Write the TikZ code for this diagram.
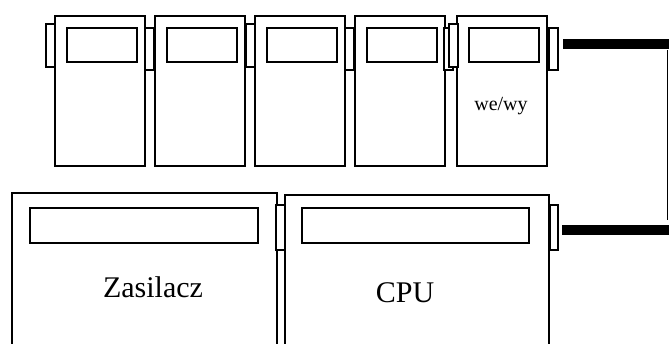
\documentclass[tikz,border=0pt]{standalone}
\usepackage{fontspec}
\setmainfont{Liberation Serif}
\begin{document}
\begin{tikzpicture}[x=1pt,y=-1pt,line width=1.1pt,
    box/.style={draw,fill=white,inner sep=0pt,outer sep=0pt,anchor=north west},
    plugl/.style={box,minimum width=9,minimum height=43},
    plugr/.style={box,minimum width=9,minimum height=42},
    cable/.style={line width=10.5pt}]
  \useasboundingbox (0,0) rectangle (669,343);
  \clip (0,0) rectangle (669,343);
  % modules
  \foreach \n/\x in {1/55,2/155,3/255,4/355,5/457}{
    \node[box,minimum width=90,minimum height=150] (m\n) at (\x,16) {};
    \node[box,minimum width=70,minimum height=34] (w\n) at (\x+12,28) {};
  }
  \node[anchor=base,font=\fontsize{20}{24}\selectfont] (io) at (501,110) {we/wy};
  % plugs
  \node[plugl] (l1) at (46,24) {};
  \node[plugr] (r1) at (145,28) {};
  \node[plugl] (l3) at (246,24) {};
  \node[plugr] (r3) at (345,28) {};
  \node[plugr] (r4) at (444,28) {};
  \node[plugl] (l5) at (449,24) {};
  \node[plugr] (r5) at (549,28) {};
  % rack
  \node[box,minimum width=265,minimum height=170] (psu) at (12,193) {};
  \node[box,minimum width=228,minimum height=35] (wpsu) at (30,208) {};
  \node[box,minimum width=264,minimum height=170] (cpu) at (285,195) {};
  \node[box,minimum width=227,minimum height=35] (wcpu) at (302,208) {};
  \node[box,minimum width=9,minimum height=45] (lcpu) at (276,205) {};
  \node[box,minimum width=8,minimum height=45] (rcpu) at (550,205) {};
  \node[anchor=base,font=\fontsize{30}{36}\selectfont] (tpsu) at (153,297) {Zasilacz};
  \node[anchor=base,font=\fontsize{30}{36}\selectfont] (tcpu) at (405,302) {CPU};
  % cable
  \coordinate (c1) at (667.5,44);
  \coordinate (c2) at (667.5,230);
  \draw[cable] ([xshift=5]r5.east |- c1) -- ++(107,0);
  \draw[cable] ([xshift=4]rcpu.east |- c2) -- ++(107,0);
  \draw ([yshift=-6]c1) -- ([yshift=10]c2);
\end{tikzpicture}
\end{document}
